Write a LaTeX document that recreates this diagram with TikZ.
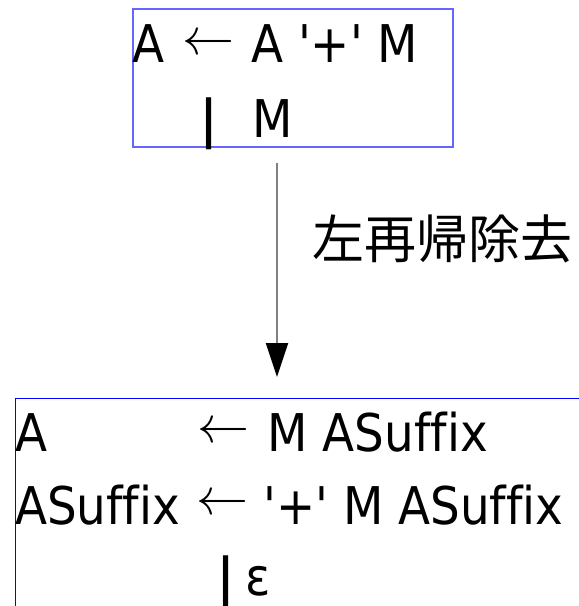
\documentclass[tikz,border=0pt]{standalone}
\usepackage{graphicx}
\usepackage{fontspec}
\setmainfont{DejaVu Sans Condensed}[Ligatures={TeXOff,NoCommon}]
\newfontfamily\cjk{Noto Sans CJK JP}
\usetikzlibrary{arrows.meta}
\definecolor{topblue}{RGB}{102,102,255}
\definecolor{botblue}{RGB}{0,0,255}
\definecolor{conngray}{RGB}{128,128,128}
\newcommand{\prodarrow}{\scalebox{5.2}{$\leftarrow$}}
\begin{document}
\begin{tikzpicture}[x=1pt,y=-1pt,
  bigfont/.style={font=\fontsize{52}{60}\selectfont},
  txt/.style={bigfont, inner sep=0pt, anchor=base west},
  bartxt/.style={font=\fontsize{52}{60}\selectfont\bfseries, inner sep=0pt, anchor=base},
  arrsym/.style={font=\fontsize{10}{12}\selectfont, inner sep=0pt, anchor=center},
  topbox/.style={draw=topblue, line width=1.2pt, inner sep=0pt, rectangle},
  botbox/.style={draw=botblue, line width=1pt, inner sep=0pt, rectangle},
  conn/.style={draw=conngray, line width=2pt, -{Triangle[length=34pt,width=22pt,color=black]}},
  lbl/.style={font=\cjk\fontsize{52}{60}\selectfont, inner sep=0pt, anchor=center}]
\useasboundingbox (0,0) rectangle (579,606);
\clip (0,0) rectangle (579,606);
% boxes
\node[topbox, minimum width=320pt, minimum height=138pt] (top) at (293,78) {};
\node[botbox, minimum width=605pt, minimum height=252pt] (bot) at (317.5,524) {};
% top box text
\node[txt] (t1l) at (132,62.5) {A};
\node[arrsym] (t1a) at (208.5,44.5) {\prodarrow};
\node[txt] (t1r) at (251,62.5) {A '+' M};
\node[bartxt] (t2b) at (209,137) {|};
\node[txt] (t2m) at (252.5,137) {M};
% bottom box text
\node[txt] (b1l) at (15,451) {A};
\node[arrsym] (b1a) at (223.5,433) {\prodarrow};
\node[txt] (b1r) at (267.5,451) {M ASuffix};
\node[txt] (b2l) at (15,524) {ASuffix};
\node[arrsym] (b2a) at (222.5,504.5) {\prodarrow};
\node[txt] (b2r) at (263.5,524) {'+' M ASuffix};
\node[bartxt] (b3b) at (226.5,595) {|};
\node[txt] (b3e) at (245,595) {ε};
% connector
\coordinate (a1) at (277,163);
\coordinate (a2) at (277,377);
\draw[conn] (a1) -- (a2);
\node[lbl] (lab) at (442.5,238.5) {左再帰除去};
\end{tikzpicture}
\end{document}
